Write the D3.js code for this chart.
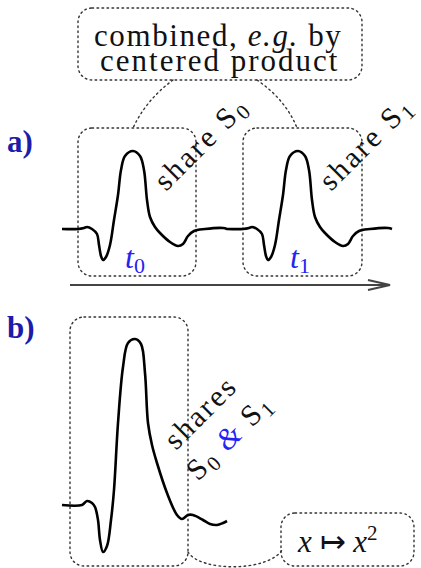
<!DOCTYPE html>
<html>
<head>
<meta charset="utf-8">
<script src="https://cdn.jsdelivr.net/npm/d3@7"></script>
</head>
<body style="margin:0">
<script>
// one heartbeat, time vs amplitude (panel a, raw signal)
var beatTime = [0, 16, 22, 25, 30, 35, 37, 39, 41, 44, 48, 52, 56, 59, 63, 71, 78, 82, 85, 88, 93, 98, 108, 116, 121, 126, 132, 143, 161, 165];
var beatAmp  = [0, 0, 1, 2, 0, -5, -16, -27, -31, -28, -16, 9, 34, 59, 73, 78, 73, 59, 29, 12, 2, -4, -13, -17, -15, -7, -2, 0, 1, 0];
var beatStarts = [0, 165];

// combined beat (panel b, after centered product)
var combTime = [0, 20, 25, 30, 33, 36, 38, 41, 45, 49, 52, 56, 61, 66, 73, 79, 83, 86, 90, 95, 105, 115, 120, 126, 131, 141, 148, 155, 161, 165];
var combAmp  = [0, 0, 4, 2, -2, -15, -35, -47, -41, -15, 15, 82, 138, 162, 166, 161, 132, 82, 60, 42, 12, -10, -14, -10, -10, -15, -19, -20, -18, -16];

var timeLabels = ["0", "1"];

var W = 421, H = 568;
var blue = "#2424f2", darkBlue = "#1c1caa";

var svg = d3.select("body").append("svg")
    .attr("width", W)
    .attr("height", H);

svg.append("rect").attr("width", W).attr("height", H).attr("fill", "#fff");

function dotted(sel) {
    return sel.attr("fill", "none")
        .attr("stroke", "#333")
        .attr("stroke-width", 1.4)
        .attr("stroke-dasharray", "1.6,3.4")
        .attr("stroke-linecap", "round");
}

function box(x0, y0, x1, y1) {
    svg.append("rect")
        .attr("x", x0).attr("y", y0)
        .attr("width", x1 - x0).attr("height", y1 - y0)
        .attr("rx", 14).attr("ry", 14)
        .call(dotted);
}

function txt(parent, x, y, size) {
    return parent.append("text")
        .attr("x", x).attr("y", y)
        .attr("font-family", "Liberation Serif")
        .attr("font-size", size)
        .attr("fill", "#111");
}

// ---------- panel a ----------
var xA = d3.scaleLinear().domain([0, 330]).range([62, 392]);
var yA = d3.scaleLinear().domain([0, 78]).range([229, 151]);

var seriesA = [];
beatStarts.forEach(function (s) {
    beatTime.forEach(function (t, i) {
        seriesA.push([s + t, beatAmp[i]]);
    });
});

// top box
box(78, 8, 362, 80);
var topText = txt(svg, 94, 46, 31).attr("letter-spacing", 1.6);
topText.append("tspan").text("combined, ");
topText.append("tspan").attr("font-style", "italic").text("e.g.");
topText.append("tspan").text(" by");
txt(svg, 100, 71, 31)
    .attr("letter-spacing", 2)
    .text("centered product");

// connectors
svg.append("path").attr("d", "M173,80 Q146,100 133,128").call(dotted);
svg.append("path").attr("d", "M257,80 Q286,100 297,128").call(dotted);

// windows
box(78, 128, 196, 276);
box(243, 128, 362, 276);

var line = d3.line().curve(d3.curveCatmullRom.alpha(0.5));

svg.append("path")
    .attr("d", line.x(d => xA(d[0])).y(d => yA(d[1]))(seriesA))
    .attr("fill", "none")
    .attr("stroke", "#000")
    .attr("stroke-width", 2.6)
    .attr("stroke-linejoin", "round");

// time axis
svg.append("path")
    .attr("d", "M" + xA(8) + ",285 H390 M368,280 L390,285 L368,290")
    .attr("fill", "none")
    .attr("stroke", "#444")
    .attr("stroke-width", 2);

// t0, t1
timeLabels.forEach(function (lab, i) {
    var t = txt(svg, xA(beatStarts[i] + 63), 268, 32).attr("fill", blue);
    t.append("tspan").attr("font-style", "italic").text("t");
    t.append("tspan").attr("font-size", 22).attr("dy", 5).text(lab);
});

// rotated labels sit in rotated groups
function rotated(x, y) {
    return svg.append("g").attr("transform", "translate(" + x + "," + y + ") rotate(-45)");
}
function shareLabel(x, y, word, sub) {
    var t = txt(rotated(x, y), 0, 0, 30).attr("letter-spacing", 2.6);
    t.append("tspan").text(word);
    t.append("tspan").attr("font-size", 21).attr("dy", 5).text(sub);
    return t;
}
shareLabel(166, 192, "share S", "0");
shareLabel(331, 192, "share S", "1");

// a) label
txt(svg, 7, 152, 31).attr("font-weight", "bold").attr("fill", darkBlue).text("a)");

// ---------- panel b ----------
var xB = d3.scaleLinear().domain([0, 165]).range([62, 227]);
var yB = d3.scaleLinear().domain([0, 166]).range([505, 339]);

txt(svg, 7, 338, 31).attr("font-weight", "bold").attr("fill", darkBlue).text("b)");

box(70, 317, 188, 566);
box(281, 513, 414, 566);
svg.append("path").attr("d", "M188,552 C200,572 268,572 282,550").call(dotted);

svg.append("path")
    .attr("d", line.x(d => xB(d[0])).y(d => yB(d[1]))(combTime.map((t, i) => [t, combAmp[i]])))
    .attr("fill", "none")
    .attr("stroke", "#000")
    .attr("stroke-width", 2.6)
    .attr("stroke-linejoin", "round");

txt(rotated(176, 451), 0, 0, 30)
    .attr("letter-spacing", 2.4)
    .text("shares");

var s2 = txt(rotated(198, 482), 0, 0, 30).attr("letter-spacing", 2.2);
s2.append("tspan").text("S");
s2.append("tspan").attr("font-size", 21).attr("dy", 5).text("0");
s2.append("tspan").attr("dy", -5).attr("font-style", "italic").attr("fill", blue).text(" & ");
s2.append("tspan").text("S");
s2.append("tspan").attr("font-size", 21).attr("dy", 5).text("1");

// x -> x^2
var fx = txt(svg, 298, 552, 31);
fx.append("tspan").attr("font-style", "italic").text("x");
fx.append("tspan").text(" \u21A6 ");
fx.append("tspan").attr("font-style", "italic").text("x");
fx.append("tspan").attr("font-size", 21).attr("dy", -12).text("2");
</script>
</body>
</html>
